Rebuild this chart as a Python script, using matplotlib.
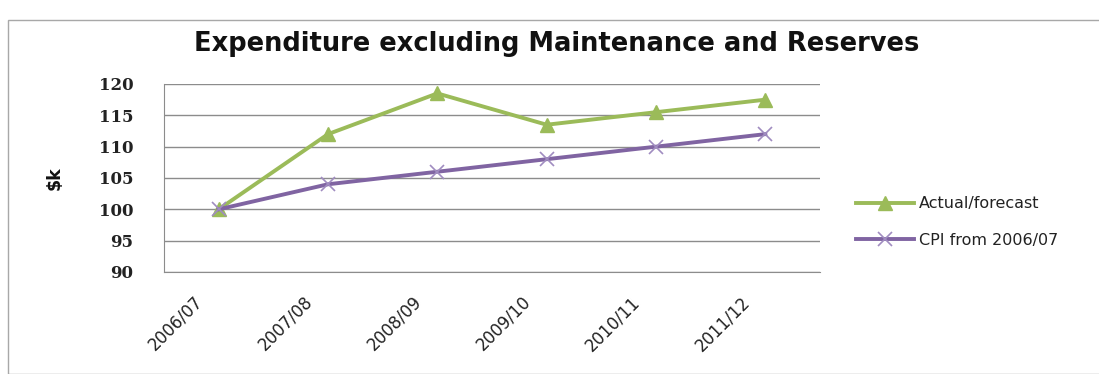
import matplotlib
matplotlib.use("Agg")
import matplotlib.pyplot as plt
from matplotlib.patches import Rectangle
from matplotlib.transforms import ScaledTranslation

years = ["2006/07", "2007/08", "2008/09", "2009/10", "2010/11", "2011/12"]
actual = [100, 112, 118.5, 113.5, 115.5, 117.5]
cpi = [100, 104, 106, 108, 110, 112]
yticks = [90, 95, 100, 105, 110, 115, 120]

green = "#9BBB59"
purple = "#8064A2"

fig = plt.figure(figsize=(10.99, 3.74), dpi=100)
fig.patches.append(Rectangle((8/1099, 0), 1.2, 1 - 20/374, transform=fig.transFigure,
                             fill=False, edgecolor="#a8a8a8", linewidth=1.0))

ax = fig.add_axes([164/1099, 1 - 272/374, 656/1099, 188/374])
x = list(range(len(years)))
ax.plot(x, actual, color=green, lw=2.8, marker="^", ms=10.5, mfc=green, mec=green,
        label="Actual/forecast")
ax.plot(x, cpi, color=purple, lw=2.8, marker="x", ms=10.5, mew=1.2, mec="#a08cc0",
        label="CPI from 2006/07")

ax.set_xlim(-0.5, 5.5)
ax.set_ylim(90, 120)
ax.set_yticks(yticks)
ax.yaxis.grid(True, color="#8c8c8c", lw=1.0)
ax.set_axisbelow(True)
for s in ["top", "right"]:
    ax.spines[s].set_visible(False)
for s in ["left", "bottom"]:
    ax.spines[s].set_color("#8c8c8c")
ax.tick_params(length=0)
ax.tick_params(axis="y", pad=22)
ax.set_yticklabels([str(v) for v in yticks], fontfamily="DejaVu Serif", fontweight="bold",
                   fontsize=12, color="#222222")
ax.set_xticks(x)
ax.set_xticklabels(years, rotation=45, ha="right", rotation_mode="anchor",
                   fontsize=12, fontfamily="DejaVu Sans", color="#222222")
ax.tick_params(axis="x", pad=15)
off = ScaledTranslation(-25/100, 0, fig.dpi_scale_trans)
for lab in ax.get_xticklabels():
    lab.set_transform(lab.get_transform() + off)

fig.text(55/1099, 1 - 178/374, "$k", rotation=90, ha="center", va="center",
         fontsize=12.5, fontweight="bold", fontfamily="DejaVu Sans", color="#111111")

fig.text(557/1099, 1 - 44/374, "Expenditure excluding Maintenance and Reserves",
         ha="center", va="center", fontsize=18.5, fontweight="bold", fontfamily="DejaVu Sans",
         color="#111111")

leg = ax.legend(loc="center left", bbox_to_anchor=(842/1099, 1 - 222/374),
                bbox_transform=fig.transFigure, frameon=False,
                handlelength=3.6, handletextpad=0.3, labelspacing=1.35,
                prop={"family": "DejaVu Sans", "size": 11.5})
for t in leg.get_texts():
    t.set_color("#222222")

fig.savefig("out.png", dpi=100)
